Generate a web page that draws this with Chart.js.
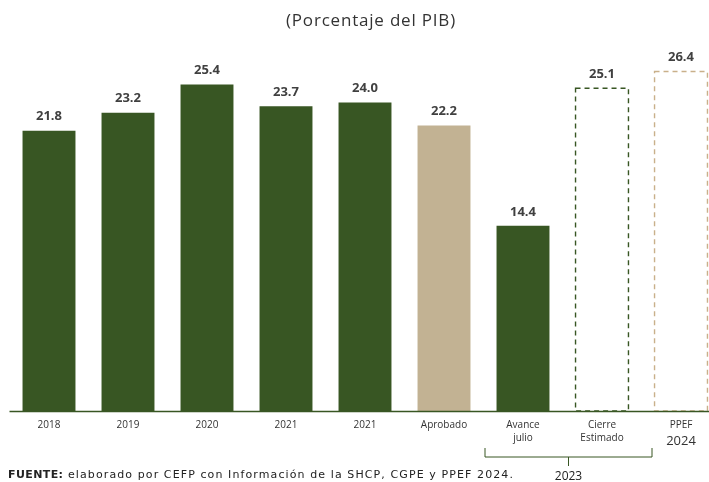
<!DOCTYPE html>
<html>
<head>
<meta charset="utf-8">
<script src="https://cdn.jsdelivr.net/npm/chart.js@4"></script>
<style>
  html, body { margin: 0; padding: 0; background: #fff; }
  body { width: 709px; height: 482px; overflow: hidden; position: relative; font-family: "Open Sans", "DejaVu Sans", sans-serif; }
  #wrap { position: absolute; left: 0; top: 0; width: 722px; height: 482px; }
  #title { position: absolute; left: 0; width: 742px; top: 8px; text-align: center; font-size: 17px; letter-spacing: 0.8px; color: #333; }
  #source { position: absolute; left: 8px; top: 468px; font-family: "DejaVu Sans", sans-serif; font-size: 11px; letter-spacing: 1.1px; color: #222; white-space: nowrap; }
  #source b { font-weight: 700; letter-spacing: 0.4px; }
</style>
</head>
<body>
<div id="wrap"><canvas id="c" width="722" height="482"></canvas></div>
<div id="title">(Porcentaje del PIB)</div>
<div id="source"><b>FUENTE:</b> elaborado por CEFP con Información de la  SHCP, CGPE y PPEF 2024.</div>
<script>
// Gasto neto pagado como porcentaje del PIB
const categories = ["2018", "2019", "2020", "2021", "2021", "Aprobado", ["Avance", "julio"], ["Cierre", "Estimado"], "PPEF"];
const values = [21.8, 23.2, 25.4, 23.7, 24.0, 22.2, 14.4, 25.1, 26.4];
const valueLabels = ["21.8", "23.2", "25.4", "23.7", "24.0", "22.2", "14.4", "25.1", "26.4"];
const groupLabel2023 = "2023";
const groupLabel2024 = "2024";

const GREEN = "#385623";
const TAN = "#c2b293";
const FONT = '"Open Sans", "DejaVu Sans", sans-serif';

// fill colours; the two projection bars are drawn as dashed outlines
const fills = [GREEN, GREEN, GREEN, GREEN, GREEN, TAN, GREEN, "rgba(0,0,0,0)", "rgba(0,0,0,0)"];
const dashed = { 7: GREEN, 8: "#c9b08a" };

const decorations = {
  id: "decorations",
  afterDatasetsDraw(chart) {
    const ctx = chart.ctx;
    const meta = chart.getDatasetMeta(0);
    const area = chart.chartArea;
    const x = chart.scales.x;

    // dashed outline bars
    meta.data.forEach((bar, i) => {
      if (!dashed[i]) return;
      const p = bar.getProps(["x", "y", "base", "width"], true);
      ctx.save();
      ctx.strokeStyle = dashed[i];
      ctx.lineWidth = 1.4;
      ctx.setLineDash([5, 4]);
      ctx.strokeRect(p.x - p.width / 2, p.y, p.width, p.base - p.y);
      ctx.restore();
    });

    // baseline
    ctx.save();
    ctx.strokeStyle = GREEN;
    ctx.lineWidth = 1.5;
    ctx.beginPath();
    ctx.moveTo(area.left, area.bottom + 0.5);
    ctx.lineTo(chart.width, area.bottom + 0.5);
    ctx.stroke();
    ctx.restore();

    // value labels
    ctx.save();
    ctx.fillStyle = "#404040";
    ctx.font = "bold 13px " + FONT;
    ctx.textAlign = "center";
    ctx.textBaseline = "middle";
    meta.data.forEach((bar, i) => {
      const p = bar.getProps(["x", "y"], true);
      ctx.fillText(valueLabels[i], p.x, p.y - 14);
    });
    ctx.restore();

    // category labels
    ctx.save();
    ctx.fillStyle = "#333";
    ctx.font = "10px " + FONT;
    ctx.textAlign = "center";
    ctx.textBaseline = "middle";
    categories.forEach((c, i) => {
      const cx = x.getPixelForValue(i);
      const lines = Array.isArray(c) ? c : [c];
      lines.forEach((ln, k) => ctx.fillText(ln, cx, area.bottom + 14 + k * 13));
    });
    // year under PPEF
    ctx.font = "13px " + FONT;
    ctx.fillText(groupLabel2024, x.getPixelForValue(8), area.bottom + 30);

    // bracket grouping the 2023 bars
    const x0 = x.getPixelForValue(6) - 38;
    const x1 = x.getPixelForValue(7) + 50;
    const mid = (x0 + x1) / 2;
    const yTop = area.bottom + 37, yLine = area.bottom + 46;
    ctx.strokeStyle = GREEN;
    ctx.lineWidth = 1;
    ctx.beginPath();
    ctx.moveTo(x0, yTop); ctx.lineTo(x0, yLine); ctx.lineTo(x1, yLine); ctx.lineTo(x1, yTop);
    ctx.moveTo(mid, yLine); ctx.lineTo(mid, yLine + 9);
    ctx.stroke();
    ctx.font = "12px " + FONT;
    ctx.fillStyle = "#222";
    ctx.fillText(groupLabel2023, mid, area.bottom + 66);
    ctx.restore();
  }
};

new Chart(document.getElementById("c"), {
  type: "bar",
  data: {
    labels: categories,
    datasets: [{
      data: values,
      backgroundColor: fills,
      borderWidth: 0,
      barPercentage: 0.67,
      categoryPercentage: 1
    }]
  },
  options: {
    responsive: false,
    animation: false,
    events: [],
    layout: { padding: { left: 9.5, right: 1.5, top: 51, bottom: 71 } },
    plugins: { legend: { display: false }, tooltip: { enabled: false } },
    scales: {
      x: { display: false },
      y: { display: false, min: 0, max: 28 }
    }
  },
  plugins: [decorations]
});
</script>
</body>
</html>
